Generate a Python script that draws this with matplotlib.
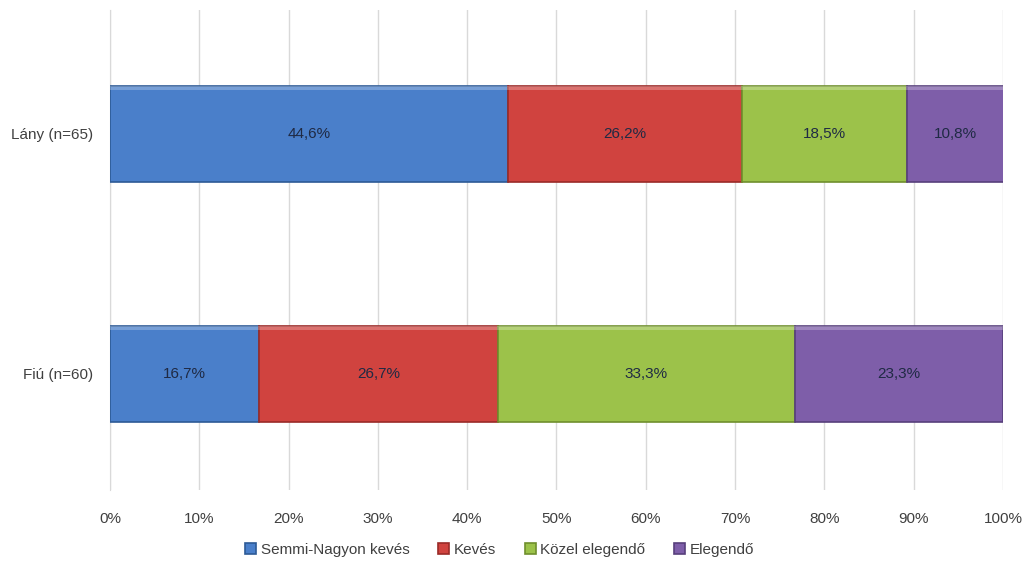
import matplotlib
matplotlib.use("Agg")
import matplotlib.pyplot as plt
import numpy as np

# adatok
groups = ["Fiú (n=60)", "Lány (n=65)"]
series = ["Semmi-Nagyon kevés", "Kevés", "Közel elegendő", "Elegendő"]
values = {
    "Semmi-Nagyon kevés": [16.7, 44.6],
    "Kevés": [26.7, 26.2],
    "Közel elegendő": [33.3, 18.5],
    "Elegendő": [23.3, 10.8],
}
colors = ["#4a7fca", "#d0433f", "#9cc24a", "#7e5ea9"]
edges = ["#2d5a96", "#9a2a27", "#6f8f2d", "#573f7c"]
ticks = np.arange(0, 101, 10)

plt.rcParams["font.family"] = ["Liberation Sans", "DejaVu Sans"]

fig = plt.figure(figsize=(10.24, 5.63), dpi=100)
ax = fig.add_axes([0.1074, 0.1297, 0.872, 0.8523])

y = np.arange(len(groups))
left = np.zeros(len(groups))
for name, c, ec in zip(series, colors, edges):
    v = np.array(values[name])
    ax.barh(y, v, left=left, height=0.4, color=c, edgecolor=ec,
            linewidth=1.2, label=name, zorder=3)
    # vekony vilagos csik a tetejen
    ax.barh(y + 0.19, v, left=left, height=0.015, color="white", alpha=0.25,
            linewidth=0, zorder=4)
    for xi, yi, vi in zip(left + v / 2, y, v):
        ax.text(xi, yi, f"{vi:.1f}%".replace(".", ","), ha="center", va="center",
                fontsize=11, color="#1f2a44", zorder=5)
    left += v

ax.set_xlim(0, 100)
ax.set_ylim(-0.485, 1.515)
ax.set_xticks(ticks)
ax.set_xticklabels([f"{t}%" for t in ticks], fontsize=11, color="#404040")
ax.set_yticks(y)
ax.set_yticklabels(groups, fontsize=11, color="#404040")
ax.tick_params(axis="x", length=0, pad=16)
ax.tick_params(axis="y", length=0, pad=12)
ax.grid(axis="x", color="#d9d9d9", linewidth=1, zorder=0)
for s in ["top", "right", "bottom"]:
    ax.spines[s].set_visible(False)
ax.spines["left"].set_color("#d9d9d9")

handles, labels = ax.get_legend_handles_labels()
leg = fig.legend(handles, labels, loc="center", bbox_to_anchor=(0.488, 0.023), ncol=4,
                 frameon=False, fontsize=11, handlelength=0.7, handleheight=0.7,
                 handletextpad=0.3, columnspacing=1.9)
for t in leg.get_texts():
    t.set_color("#404040")

fig.savefig("out.png", dpi=100, facecolor="white")
